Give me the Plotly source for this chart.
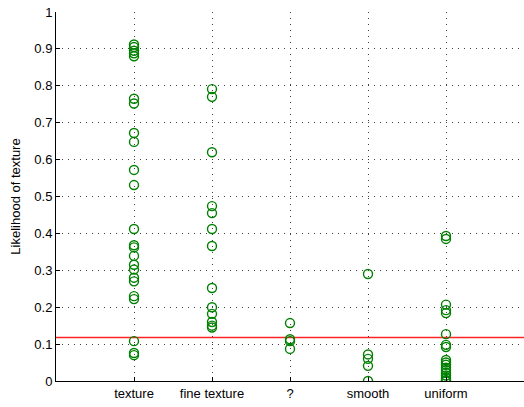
import plotly.graph_objects as go

# Category labels along the x axis
categories = ["texture", "fine texture", "?", "smooth", "uniform"]

# Likelihood scores per category
texture_vals = [0.912, 0.905, 0.895, 0.888, 0.880, 0.765, 0.752, 0.672, 0.648,
                0.572, 0.531, 0.412, 0.368, 0.362, 0.339, 0.315, 0.302, 0.280,
                0.270, 0.230, 0.222, 0.108, 0.076, 0.070]
fine_texture_vals = [0.791, 0.770, 0.620, 0.474, 0.455, 0.412, 0.366, 0.252,
                     0.200, 0.182, 0.160, 0.150, 0.145]
unknown_vals = [0.157, 0.113, 0.108, 0.087]
smooth_vals = [0.290, 0.072, 0.060, 0.041, 0.000]
uniform_vals = [0.393, 0.385, 0.207, 0.192, 0.184, 0.127, 0.098, 0.092, 0.057,
                0.050, 0.044, 0.036, 0.030, 0.022, 0.015, 0.008, 0.003, 0.000]

# Decision threshold
threshold = 0.118

y_ticks = [0, 0.1, 0.2, 0.3, 0.4, 0.5, 0.6, 0.7, 0.8, 0.9, 1]
y_tick_text = ["0", "0.1", "0.2", "0.3", "0.4", "0.5", "0.6", "0.7", "0.8", "0.9", "1"]

groups = [texture_vals, fine_texture_vals, unknown_vals, smooth_vals, uniform_vals]

xs, ys = [], []
for i, vals in enumerate(groups, start=1):
    xs.extend([i] * len(vals))
    ys.extend(vals)

fig = go.Figure()

fig.add_trace(go.Scatter(
    x=[0, 6], y=[threshold, threshold], mode="lines",
    line=dict(color="#ff0000", width=1.6), opacity=0.85,
    showlegend=False, hoverinfo="skip",
))

fig.add_trace(go.Scatter(
    x=xs, y=ys, mode="markers",
    marker=dict(symbol="circle-open", size=9, color="#008000",
                line=dict(width=1.4, color="#008000")),
    showlegend=False,
))

font = dict(family="Liberation Sans, Arial, sans-serif", size=13, color="#000000")

fig.update_layout(
    width=524, height=407,
    margin=dict(l=56, r=0, t=12, b=26),
    paper_bgcolor="white", plot_bgcolor="white",
    font=font,
    xaxis=dict(
        range=[0, 6],
        tickvals=list(range(1, len(categories) + 1)),
        ticktext=categories,
        showgrid=True, gridcolor="#404040", griddash="1px,5px", gridwidth=1,
        showline=True, linecolor="#000000", linewidth=1,
        ticks="inside", ticklen=4, tickcolor="#000000",
        zeroline=False, fixedrange=True,
    ),
    yaxis=dict(
        range=[0, 1],
        tickvals=y_ticks, ticktext=y_tick_text,
        showgrid=True, gridcolor="#404040", griddash="1px,5px", gridwidth=1,
        showline=True, linecolor="#000000", linewidth=1,
        ticks="inside", ticklen=4, tickcolor="#000000",
        zeroline=False, fixedrange=True,
        title=dict(text="Likelihood of texture", standoff=10, font=font),
    ),
)

fig.write_html("out.html")
